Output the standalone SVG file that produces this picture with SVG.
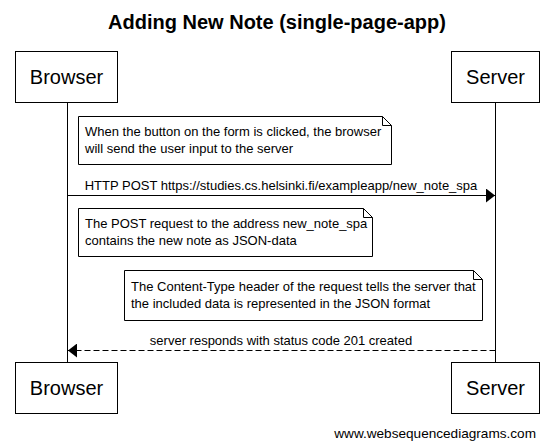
<svg xmlns="http://www.w3.org/2000/svg" width="554" height="447" viewBox="0 0 554 447">
<style>
text{font-family:"Liberation Sans",Arial,sans-serif;fill:#000}
.title{font-size:20px;font-weight:bold;text-anchor:middle}
.actor rect{fill:#fff;stroke:#000;stroke-width:1}
.actor text{font-size:20px;text-anchor:middle}
.note path{fill:#fff;stroke:#000;stroke-width:1}
.note text,.lbl{font-size:13px}
.lbl{text-anchor:middle}
.life{stroke:#000;stroke-width:1}
.msg{stroke:#000;stroke-width:1;fill:none}
.dash{stroke-dasharray:6,3}
.wm{font-size:13.6px;text-anchor:end}
</style>
<defs>
<marker id="head" markerWidth="10" markerHeight="14" refX="9" refY="7" orient="auto" markerUnits="userSpaceOnUse">
<path d="M0,0 L9,7 L0,14 Z" fill="#000"/>
</marker>
</defs>
<text class="title" x="277" y="29">Adding New Note (single-page-app)</text>
<g id="connectors">
<line class="life" x1="67.5" y1="102" x2="67.5" y2="362"/>
<line class="life" x1="495.5" y1="102" x2="495.5" y2="362"/>
<line class="msg" x1="67.5" y1="195.5" x2="495" y2="195.5" marker-end="url(#head)"/>
<text class="lbl" x="281" y="190">HTTP POST https://studies.cs.helsinki.fi/exampleapp/new_note_spa</text>
<line class="msg dash" x1="495.5" y1="350.5" x2="68" y2="350.5" marker-end="url(#head)"/>
<text class="lbl" x="281" y="345">server responds with status code 201 created</text>
</g>
<g id="browser-top" class="actor"><rect x="15.5" y="51.5" width="102" height="51"/><text x="66.5" y="84">Browser</text></g>
<g id="server-top" class="actor"><rect x="451.5" y="51.5" width="88" height="51"/><text x="495.5" y="84">Server</text></g>
<g id="note1" class="note"><path d="M78.5,116.5 H382.5 L391.5,125.5 V164.5 H78.5 Z M382.5,116.5 V125.5 H391.5"/><text x="85" y="136">When the button on the form is clicked, the browser</text><text x="85" y="153">will send the user input to the server</text></g>
<g id="note2" class="note"><path d="M78.5,208.5 H363.5 L372.5,217.5 V256.5 H78.5 Z M363.5,208.5 V217.5 H372.5"/><text x="85" y="228">The POST request to the address new_note_spa</text><text x="85" y="245">contains the new note as JSON-data</text></g>
<g id="note3" class="note"><path d="M124.5,270.5 H473.5 L482.5,279.5 V320.5 H124.5 Z M473.5,270.5 V279.5 H482.5"/><text x="131" y="291">The Content-Type header of the request tells the server that</text><text x="131" y="308">the included data is represented in the JSON format</text></g>
<g id="browser-bottom" class="actor"><rect x="15.5" y="362.5" width="102" height="51"/><text x="66.5" y="395">Browser</text></g>
<g id="server-bottom" class="actor"><rect x="451.5" y="362.5" width="88" height="51"/><text x="495.5" y="395">Server</text></g>
<text class="wm" x="536" y="438">www.websequencediagrams.com</text>
</svg>
